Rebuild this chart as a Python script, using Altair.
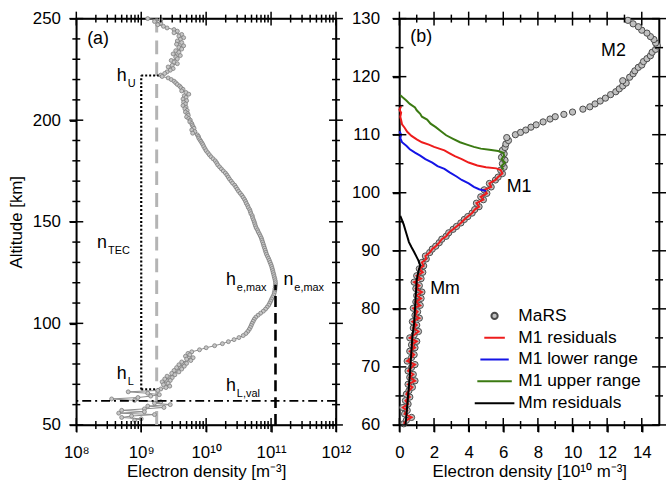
import altair as alt
import pandas as pd

FONT = "Liberation Sans"
W, H = 262, 410
TMAJ, TMIN = 7, 4

# ---------------- panel (a): electron density profile (log scale) ----------------
a_alt = [
    250.0, 249.3, 248.6, 247.8, 247.0, 246.2, 245.4, 244.6, 243.8, 243.0,
    242.2, 241.4, 240.6, 239.8, 239.0, 238.2, 237.4, 236.6, 235.8, 235.0,
    234.2, 233.4, 232.6, 231.8, 231.0, 230.2, 229.4, 228.6, 227.8, 227.0,
    226.2, 225.4, 224.6, 223.8, 223.0, 222.2, 221.5, 220.8, 220.0, 219.2,
    218.4, 217.6, 216.8, 216.0, 215.2, 214.4, 213.6, 212.8, 212.0, 211.2,
    210.4, 209.6, 208.8, 208.0, 207.2, 206.4, 205.6, 204.8, 204.0, 203.2,
    202.4, 201.6, 200.8, 200.0,
    199.2, 198.4, 197.6, 196.8, 196.0, 195.2, 194.4, 193.6, 192.8, 192.0,
    191.2, 190.4, 189.6, 188.8, 188.0,
    187, 186, 185, 184, 183, 182, 181, 180, 179, 178,
    177, 176, 175, 174, 173, 172, 171, 170, 169, 168,
    167, 166, 165, 164, 163, 162, 161, 160, 159, 158,
    157, 156, 155, 154, 153, 152, 151, 150, 149, 148,
    147, 146, 145, 144, 143,
    142, 141, 140, 139, 138, 137, 136, 135, 134, 133,
    132, 131, 130, 129, 128, 127, 126, 125, 124, 123,
    122, 121, 120, 119, 118, 117, 116, 115, 114, 113,
    112, 111, 110, 109, 108, 107, 106, 105, 104, 103,
    102, 101, 100, 99, 98, 97, 96, 95, 94, 93,
    92, 91, 90, 89, 88, 87, 86,
    85.2, 84.5, 83.8, 83.1, 82.4, 81.7, 81.0, 80.3, 79.6, 78.9,
    78.2, 77.5, 76.8, 76.1, 75.4, 74.7, 74.0, 73.3, 72.6, 71.9,
    71.2, 70.5, 69.8, 69.1, 68.4, 67.7, 67.0, 66.3, 65.6, 64.9,
    64.2, 63.5, 62.8, 62.1, 61.4, 60.7, 60.0, 59.3, 58.6, 57.9,
    57.2, 56.5, 55.8, 55.1, 54.4, 53.7, 53.0, 52.3,
]
# electron density in units of 1e9 m^-3
a_dens_e9 = [
    1.26, 2.0, 1.6, 2.0, 1.8, 2.2, 2.5, 3.2, 3.6, 3.2,
    4.2, 3.8, 4.5, 4.0, 3.6, 4.2, 3.5, 4.5, 3.8, 4.2,
    3.4, 3.8, 3.1, 4.0, 3.4, 3.6, 2.9, 3.2, 3.6, 3.0,
    2.6, 3.1, 2.8, 2.5, 2.3, 2.0, 2.1, 2.6, 2.9, 3.2,
    3.4, 3.6, 3.9, 4.1, 4.4, 4.2, 4.9, 5.4, 4.6, 4.9,
    4.4, 5.0, 4.5, 4.8, 4.4, 4.9, 4.7, 5.1, 4.8, 5.2,
    5.3, 5.0, 5.4, 5.7,
    5.6, 6.0, 6.1, 6.3, 6.5, 6.0, 6.7, 6.2, 7.3, 7.6,
    7.7, 8.0, 8.3, 8.6, 8.9,
    9.2, 9.6, 10.0, 10.6, 11.2, 11.9, 12.8, 13.8, 14.5, 15.1,
    16.1, 17.2, 18.4, 19.8, 20.9, 21.9, 22.9, 24.3, 25.6, 27.5,
    28.8, 30.2, 31.6, 33.5, 35.5, 37.2, 39.0, 40.5, 41.7, 43.5,
    44.7, 46.8, 48.0, 49.0, 51.3, 52.0, 53.5, 55.0, 56.2, 57.5,
    59.0, 61.7, 63.5, 66.1, 68.4,
    70.8, 72.4, 74.1, 75.9, 77.6, 79.4, 81.3, 83.2, 85.1, 88.0,
    91.2, 94.0, 96.6, 99.5, 102, 104, 106, 108, 110, 112,
    114, 116, 117, 117, 116, 115, 114, 112, 110, 106,
    102, 99, 95.5, 92, 87, 82, 76, 69, 63, 58,
    55, 53, 51, 49.5, 47.9, 46, 43.7, 41, 37.2, 32,
    26.9, 22, 17.8, 13.5, 10.0, 7.9, 6.0,
    5.25, 5.6, 4.8, 6.3, 5.0, 5.8, 4.2, 5.0, 3.8, 4.6,
    3.5, 4.2, 3.2, 3.8, 2.95, 3.3, 2.5, 3.0, 2.3, 2.8,
    2.1, 2.6, 2.2, 2.75, 2.4, 2.0, 1.8, 0.63, 1.26, 1.9,
    1.4, 0.89, 0.35, 0.79, 2.0, 1.6, 2.8, 1.26, 2.24, 1.12,
    0.5, 1.12, 0.45, 1.6, 0.71, 0.5, 1.0, 0.79,
]

# guide lines of panel (a)
n_gray_dashed = 1.73e9
n_tec_floor = 1.0e9
h_upper, h_lower = 222.0, 67.5
n_at_hu, n_at_hl = 2.05e9, 1.86e9
n_emax, h_emax = 1.17e11, 119.0
h_lval = 61.8

a_ann_main = ["h", "n", "h", "h", "n", "h"]
a_ann_sub = ["U", "TEC", "L", "e,max", "e,max", "L,val"]
a_ann_x = [4.2e8, 2.09e8, 4.2e8, 2.02e10, 1.55e11, 2.02e10]
a_ann_y = [219.3, 137.3, 72.4, 118.8, 118.8, 66.6]

a_x_major = [1e8, 1e9, 1e10, 1e11, 1e12]
a_x_minor = [k * 10 ** e for e in range(8, 12) for k in range(2, 10)]
a_y_major = [50, 100, 150, 200, 250]
a_y_minor = [60, 70, 80, 90, 110, 120, 130, 140, 160, 170, 180, 190, 210, 220, 230, 240]

# ---------------- panel (b): linear zoom with model residuals ----------------
mars_alt = [
    60.2, 60.8, 61.3, 61.9, 62.5, 63.0, 63.6, 64.2, 64.8, 65.3,
    65.9, 66.5, 67.0, 67.6, 68.2, 68.7, 69.3, 69.9, 70.4, 71.0,
    71.6, 72.1, 72.7, 73.3, 73.8, 74.4, 75.0, 75.5, 76.1, 76.7,
    77.2, 77.8, 78.4, 78.9, 79.5, 80.1, 80.6, 81.2, 81.8, 82.3,
    82.9, 83.5, 84.0, 84.6, 85.2, 85.7, 86.3, 86.9, 87.4, 88.0,
    88.6, 89.1, 89.7, 90.3, 90.8, 91.4, 92.0, 92.5, 93.1, 93.7,
    94.2, 94.8, 95.4, 95.9, 96.5, 97.1, 97.6, 98.2, 98.8, 99.3,
    99.9, 100.5, 101.0, 101.6, 102.2, 102.7, 103.3, 103.9, 104.4, 105.0,
    105.6, 106.1, 106.7, 107.3, 107.8, 108.4, 109.0, 109.5, 110.0, 110.4,
    110.8, 111.3, 111.7, 112.2, 112.7, 113.1, 113.5, 113.9, 114.4, 114.8,
    115.3, 115.8, 116.3, 116.9, 117.4, 117.9, 118.4, 118.9, 119.3, 119.9,
    120.5, 121.0, 121.6, 122.0, 122.6, 123.1, 123.6, 124.2, 124.7, 125.3,
    125.8, 126.4, 126.9, 127.5, 128.0, 128.6, 129.1, 129.7,
]
mars_val = [
    0.25, 0.4, 0.7, 0.3, 0.45, 0.2, 0.5, 0.35, 0.6, 0.4,
    0.55, 0.75, 0.5, 0.9, 0.6, 0.8, 0.5, 0.7, 0.9, 0.45,
    0.7, 0.85, 0.6, 0.9, 0.7, 1.0, 0.6, 0.85, 1.1, 0.8,
    1.0, 0.75, 1.15, 0.9, 1.05, 0.8, 1.2, 0.95, 1.25, 1.0,
    1.3, 0.95, 1.15, 0.85, 1.25, 1.0, 1.35, 1.15, 1.4, 1.3,
    1.55, 1.5, 1.75, 1.9, 2.1, 2.3, 2.45, 2.7, 2.85, 3.1,
    3.3, 3.55, 3.75, 3.95, 4.2, 4.35, 4.6, 4.45, 4.85, 4.7,
    5.05, 4.9, 5.3, 5.2, 5.55, 5.7, 5.95, 5.85, 6.05, 5.95,
    6.1, 5.9, 6.05, 5.95, 6.1, 6.15, 6.3, 6.2, 6.7, 7.0,
    7.3, 7.6, 7.9, 8.3, 8.7, 9.0, 9.5, 10.0, 10.6, 11.0,
    11.3, 11.6, 11.9, 12.2, 12.5, 12.7, 12.9, 13.1, 12.9, 13.3,
    13.5, 13.6, 13.8, 14.0, 14.1, 14.3, 14.5, 14.6, 14.8, 14.9,
    14.8, 14.7, 14.5, 14.3, 14.0, 13.8, 13.5, 13.2,
]

m1_tail_alt = [104.2, 104.4, 104.7, 105.2, 105.8, 106.3, 106.8, 107.3, 107.6, 107.9,
               108.3, 108.7, 109.2, 109.8, 110.5, 111.2, 111.8, 112.5, 113.1, 113.8,
               114.3, 114.9]
m1_tail_val = [5.6, 5.0, 4.5, 4.0, 3.6, 3.2, 2.9, 2.6, 2.3, 2.0,
               1.7, 1.3, 1.0, 0.7, 0.45, 0.3, 0.15, 0.1, 0.05, 0.1,
               0.0, 0.1]
m1_low_alt = [100.3, 100.6, 101.0, 101.6, 102.2, 102.8, 103.5, 104.1, 104.6, 105.2,
              105.8, 106.4, 106.9, 107.5, 108.1, 108.7, 109.4, 110.0, 110.6]
m1_low_val = [5.0, 4.6, 4.3, 4.0, 3.6, 3.3, 2.9, 2.6, 2.2, 1.9,
              1.5, 1.2, 0.9, 0.6, 0.4, 0.15, 0.05, 0.1, 0.0]
m1_up_alt = [104.0, 104.6, 105.2, 105.8, 106.4, 106.9, 107.2, 107.4, 107.6, 107.9,
             108.3, 108.7, 109.3, 109.9, 110.6, 111.3, 111.9, 112.6, 113.1, 113.6,
             114.2, 114.7, 115.3, 115.9, 116.4, 116.8]
m1_up_val = [6.0, 5.9, 6.1, 5.9, 6.05, 6.0, 5.7, 5.2, 4.7, 4.3,
             3.9, 3.5, 3.1, 2.7, 2.4, 2.1, 1.8, 1.6, 1.3, 1.2,
             1.0, 0.9, 0.6, 0.4, 0.2, 0.05]
mm_alt = [60.0, 61.5, 63.2, 65.0, 66.7, 68.5, 70.7, 73.0, 75.3, 77.5,
          80.0, 82.5, 85.0, 86.5, 87.5, 88.3, 88.9, 89.8, 90.6, 91.5,
          92.5, 93.5, 94.5, 95.3, 96.0]
mm_val = [0.35, 0.4, 0.45, 0.5, 0.55, 0.6, 0.65, 0.7, 0.75, 0.85,
          0.9, 0.95, 1.0, 1.1, 1.2, 1.1, 1.0, 0.85, 0.7, 0.55,
          0.45, 0.35, 0.25, 0.15, 0.05]

legend_names = ["MaRS", "M1 residuals", "M1 lower range", "M1 upper range", "Mm residuals"]
legend_colors = ["#4a4a4a", "#ee1c1c", "#1414e6", "#3b7a12", "#000000"]
legend_shapes = ["circle", "stroke", "stroke", "stroke", "stroke"]
legend_sizes = [40, 1600, 1600, 1600, 1600]

b_ann_text = ["(b)", "M2", "M1", "Mm"]
b_ann_x = [0.63, 11.65, 6.2, 1.78]
b_ann_y = [126.9, 124.4, 100.9, 83.4]

b_x_major = [0, 2, 4, 6, 8, 10, 12, 14]
b_x_minor = [1, 3, 5, 7, 9, 11, 13]
b_y_major = [60, 70, 80, 90, 100, 110, 120, 130]
b_y_minor = [65, 75, 85, 95, 105, 115, 125]


# ---------------- helper: frame ticks crossing all four sides ----------------
def frame_ticks(xsc, ysc, xmaj, xmin, ymaj, ymin, color):
    rs = dict(color=color, strokeWidth=1.5)
    xm, xn = pd.DataFrame({"v": xmaj}), pd.DataFrame({"v": xmin})
    ym, yn = pd.DataFrame({"v": ymaj}), pd.DataFrame({"v": ymin})
    top_axis = alt.Axis(orient="top", values=xmaj, labels=False, title=None, ticks=False)
    right_axis = alt.Axis(orient="right", values=ymaj, labels=False, title=None, ticks=False)
    xr = lambda ax=None: alt.X("v:Q", scale=xsc, axis=ax)
    yr = lambda ax=None: alt.Y("v:Q", scale=ysc, axis=ax)
    return [
        alt.Chart(xm).mark_rule(**rs).encode(x=xr(top_axis), y=alt.value(-TMAJ), y2=alt.value(TMAJ)),
        alt.Chart(xm).mark_rule(**rs).encode(x=xr(), y=alt.value(H - TMAJ), y2=alt.value(H + TMAJ)),
        alt.Chart(xn).mark_rule(**rs).encode(x=xr(), y=alt.value(-TMIN), y2=alt.value(TMIN)),
        alt.Chart(xn).mark_rule(**rs).encode(x=xr(), y=alt.value(H - TMIN), y2=alt.value(H + TMIN)),
        alt.Chart(ym).mark_rule(**rs).encode(y=yr(right_axis), x=alt.value(W - TMAJ), x2=alt.value(W + TMAJ)),
        alt.Chart(ym).mark_rule(**rs).encode(y=yr(), x=alt.value(-TMAJ), x2=alt.value(TMAJ)),
        alt.Chart(yn).mark_rule(**rs).encode(y=yr(), x=alt.value(-TMIN), x2=alt.value(TMIN)),
        alt.Chart(yn).mark_rule(**rs).encode(y=yr(), x=alt.value(W - TMIN), x2=alt.value(W + TMIN)),
    ]


# ---------------- panel (a) ----------------
xs_a = alt.Scale(type="log", domain=[1e8, 1e12], nice=False)
ys_a = alt.Scale(domain=[50, 250], nice=False, zero=False)

prof = pd.DataFrame({"h": a_alt, "n": [v * 1e9 for v in a_dens_e9],
                     "i": list(range(len(a_alt)))})

ax_a_x = alt.Axis(orient="bottom", values=a_x_major, ticks=True, tickSize=TMAJ,
                  labelPadding=13, titlePadding=3, title="Electron density [m⁻³]",
                  labelExpr="'10' + ['⁸','⁹','¹⁰','¹¹','¹²'][round(log(datum.value)/LN10) - 8]")
ax_a_y = alt.Axis(orient="left", values=a_y_major, ticks=True, tickSize=TMAJ,
                  labelPadding=9, titlePadding=7, title="Altitude [km]")

Xa = lambda f: alt.X(f, scale=xs_a, axis=None)
Ya = lambda f: alt.Y(f, scale=ys_a, axis=None)

gray_dash = alt.Chart(pd.DataFrame({"x": [n_gray_dashed]})).mark_rule(
    color="#b4b4b4", strokeWidth=3, strokeDash=[14, 8]).encode(x=Xa("x:Q"))

dotted = alt.Chart(pd.DataFrame({
    "x": [n_tec_floor, n_tec_floor, n_tec_floor],
    "x2": [n_tec_floor, n_at_hu, n_at_hl],
    "y": [h_lower, h_upper, h_lower],
    "y2": [h_upper, h_upper, h_lower]})).mark_rule(
    color="black", strokeWidth=2.2, strokeDash=[2, 2]).encode(
    x=Xa("x:Q"), x2="x2:Q", y=Ya("y:Q"), y2="y2:Q")

prof_line = alt.Chart(prof).mark_line(color="#8c8c8c", strokeWidth=1).encode(
    x=alt.X("n:Q", scale=xs_a, axis=ax_a_x),
    y=alt.Y("h:Q", scale=ys_a, axis=ax_a_y),
    order="i:Q")
prof_pts = alt.Chart(prof).mark_point(
    filled=True, fill="#c6c6c6", stroke="#7c7c7c", strokeWidth=0.8, size=16, opacity=1
).encode(x=Xa("n:Q"), y=Ya("h:Q"))

emax_dash = alt.Chart(pd.DataFrame({"x": [n_emax], "y": [50], "y2": [h_emax]})).mark_rule(
    color="black", strokeWidth=2.6, strokeDash=[11, 6]).encode(x=Xa("x:Q"), y=Ya("y:Q"), y2="y2:Q")

lval_dashdot = alt.Chart(pd.DataFrame({"y": [h_lval]})).mark_rule(
    color="black", strokeWidth=1.8, strokeDash=[9, 4, 2, 4]).encode(y=Ya("y:Q"))

ann_df = pd.DataFrame({"t": a_ann_main, "s": a_ann_sub, "x": a_ann_x, "y": a_ann_y})
ann_main = alt.Chart(ann_df).mark_text(
    align="left", baseline="alphabetic", fontSize=18, font=FONT, color="black").encode(
    x=Xa("x:Q"), y=Ya("y:Q"), text="t:N")
ann_sub = alt.Chart(ann_df).mark_text(
    align="left", baseline="alphabetic", fontSize=11, font=FONT, color="black", dx=11, dy=6).encode(
    x=Xa("x:Q"), y=Ya("y:Q"), text="s:N")
tag_a = alt.Chart(pd.DataFrame({"t": ["(a)"], "x": [1.47e8], "y": [239.8]})).mark_text(
    align="left", baseline="middle", fontSize=18, font=FONT, color="black").encode(
    x=Xa("x:Q"), y=Ya("y:Q"), text="t:N")

panel_a = alt.layer(
    gray_dash, dotted, prof_line, prof_pts, emax_dash, lval_dashdot,
    ann_main, ann_sub, tag_a,
    *frame_ticks(xs_a, ys_a, a_x_major, a_x_minor, a_y_major, a_y_minor, "#000000")
).resolve_axis(x="independent", y="independent").properties(width=W, height=H)

# ---------------- panel (b) ----------------
xs_b = alt.Scale(domain=[0, 15], nice=False, zero=False)
ys_b = alt.Scale(domain=[60, 130], nice=False, zero=False)

ax_b_x = alt.Axis(orient="bottom", values=b_x_major, ticks=True, tickSize=TMAJ,
                  labelPadding=13, titlePadding=3, title="Electron density [10¹⁰ m⁻³]")
ax_b_y = alt.Axis(orient="left", values=b_y_major, ticks=True, tickSize=TMAJ,
                  labelPadding=13, title=None)

Xb = lambda f: alt.X(f, scale=xs_b, axis=None)
Yb = lambda f: alt.Y(f, scale=ys_b, axis=None)

mars_df = pd.DataFrame({"h": mars_alt, "v": mars_val, "s": "MaRS"})

m1_alt = [h for h in mars_alt if h <= 104.0] + m1_tail_alt
m1_val = [v for h, v in zip(mars_alt, mars_val) if h <= 104.0] + m1_tail_val

rows = []
for name, hs, vs in [(legend_names[1], m1_alt, m1_val),
                     (legend_names[2], m1_low_alt, m1_low_val),
                     (legend_names[3], m1_up_alt, m1_up_val),
                     (legend_names[4], mm_alt, mm_val)]:
    for k, (h, v) in enumerate(zip(hs, vs)):
        rows.append({"s": name, "h": h, "v": v, "i": k})
lines_df = pd.DataFrame(rows)

legend_b = alt.Legend(title=None, orient="none", legendX=75, legendY=289,
                      symbolStrokeWidth=2, symbolFillColor="#c0c0c0", clipHeight=22,
                      rowPadding=0, labelFont=FONT, labelFontSize=17.5, labelColor="black",
                      labelOffset=3)
stroke_scale = alt.Scale(domain=legend_names, range=legend_colors)
shape_scale = alt.Scale(domain=legend_names, range=legend_shapes)
size_scale = alt.Scale(domain=legend_names, range=legend_sizes)

mars_pts = alt.Chart(mars_df).mark_point(
    filled=True, fill="#c0c0c0", strokeWidth=1, opacity=1
).encode(
    x=alt.X("v:Q", scale=xs_b, axis=ax_b_x),
    y=alt.Y("h:Q", scale=ys_b, axis=ax_b_y),
    stroke=alt.Stroke("s:N", scale=stroke_scale, legend=legend_b),
    shape=alt.Shape("s:N", scale=shape_scale, legend=legend_b),
    size=alt.Size("s:N", scale=size_scale, legend=legend_b))

res_lines = alt.Chart(lines_df).mark_line(strokeWidth=2).encode(
    x=Xb("v:Q"), y=Yb("h:Q"),
    stroke=alt.Stroke("s:N", scale=stroke_scale, legend=legend_b),
    order="i:Q")

b_ann = alt.Chart(pd.DataFrame({"t": b_ann_text, "x": b_ann_x, "y": b_ann_y})).mark_text(
    align="left", baseline="middle", fontSize=18, font=FONT, color="black").encode(
    x=Xb("x:Q"), y=Yb("y:Q"), text="t:N")

panel_b = alt.layer(
    mars_pts, res_lines, b_ann,
    *frame_ticks(xs_b, ys_b, b_x_major, b_x_minor, b_y_major, b_y_minor, "#000000")
).resolve_axis(x="independent", y="independent").properties(width=W, height=H)

chart = alt.hconcat(panel_a, panel_b, spacing=-2).resolve_scale(
    stroke="independent", shape="independent", size="independent"
).properties(
    padding={"left": 6, "top": 6.6, "right": 0, "bottom": 0}
).configure(font=FONT).configure_view(
    stroke="black", strokeWidth=1.5
).configure_axis(
    labelFont=FONT, titleFont=FONT, labelFontSize=17, titleFontSize=17,
    titleFontWeight="normal", labelColor="black", titleColor="black",
    tickColor="black", tickWidth=1.5, domainColor="black", domainWidth=1.5,
    grid=False, labelFlush=False, labelOverlap=False
)

chart.save("out.html", embed_options={"renderer": "svg", "actions": False})
